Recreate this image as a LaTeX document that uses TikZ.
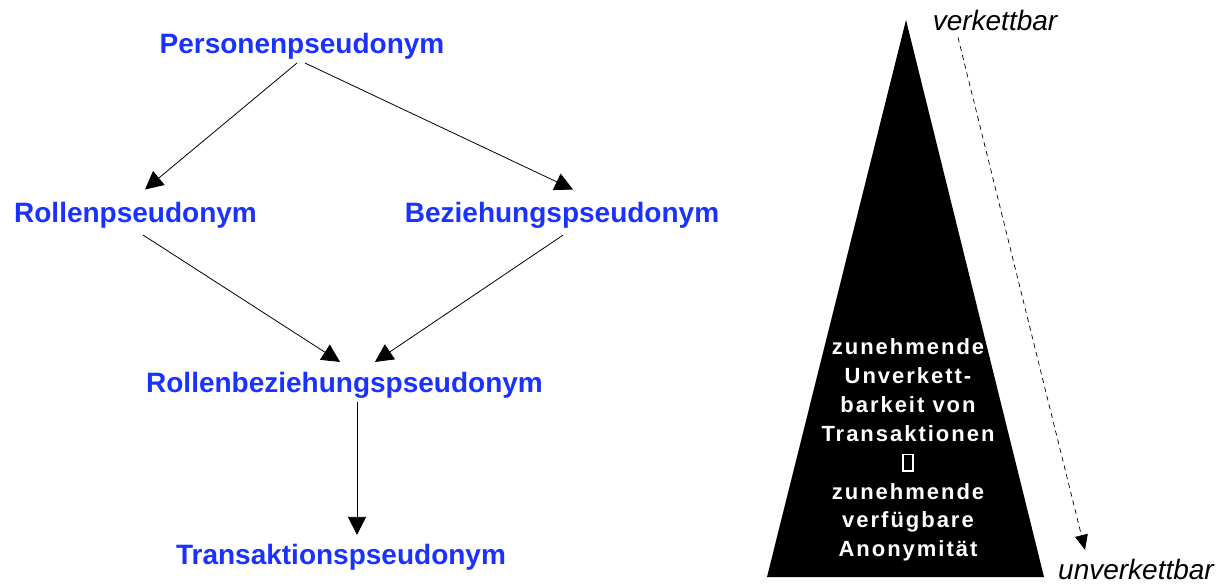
\documentclass[tikz,border=0pt]{standalone}
\usepackage{fontspec}
\setmainfont{Liberation Sans}
\newfontfamily\pseudofont{Liberation Sans}
\newfontfamily\triafont{Liberation Sans}[LetterSpace=9]
\newfontfamily\linkfont{Liberation Sans}
\usetikzlibrary{arrows.meta, positioning}
\definecolor{pseudoblue}{RGB}{26,50,255}

\begin{document}
\begin{tikzpicture}[
    x=1pt, y=-1pt,
    pseudo/.style={font=\pseudofont\bfseries\fontsize{28}{32}\selectfont,
      text=pseudoblue, inner sep=3pt, anchor=base},
    link/.style={font=\linkfont\itshape\fontsize{28}{32}\selectfont,
      inner sep=3pt, anchor=base},
    arr/.style={-{Triangle[length=18pt,width=18pt]}, line width=0.8pt},
    dasharr/.style={-{Triangle[length=15pt,width=13pt]}, line width=0.7pt,
      dash pattern=on 5pt off 4pt}]

  \useasboundingbox (0,0) rectangle (1225,585);

  % pseudonyms
  \node[pseudo] at (302,54) (pers) {Personenpseudonym};
  \node[pseudo] at (135.5,223) (rollen) {Rollenpseudonym};
  \node[pseudo] at (562,223) (bez) {Beziehungspseudonym};
  \node[pseudo] at (344.5,392) (rolbez) {Rollenbeziehungspseudonym};
  \node[pseudo] at (341,564) (trans) {Transaktionspseudonym};

  \draw[arr] ([xshift=-5pt]pers.south) -- ([xshift=9.5pt,yshift=10pt]rollen.north);
  \draw[arr] ([xshift=3pt]pers.south) -- ([xshift=11pt,yshift=10pt]bez.north);
  \draw[arr] ([xshift=7.5pt,yshift=-3pt]rollen.south) -- ([xshift=-4.5pt,yshift=6.6pt]rolbez.north);
  \draw[arr] ([xshift=1pt,yshift=-3pt]bez.south) -- ([xshift=30.5pt,yshift=6.6pt]rolbez.north);
  \draw[arr] ([xshift=12.5pt,yshift=-1pt]rolbez.south) -- ([xshift=16pt,yshift=5.6pt]trans.north);

  % triangle
  \coordinate (apex) at (906,20);
  \coordinate (baseL) at (767,577);
  \coordinate (baseR) at (1044,577);
  \fill (apex) -- (baseL) -- (baseR) -- cycle;
  \node[text=white, inner sep=0, align=center,
    font=\triafont\bfseries\fontsize{22}{28.9}\selectfont] at (908,450) (anon)
    {zunehmende\\Unverkett-\\barkeit von\\Transaktionen\\
     {\setlength\fboxsep{0pt}\setlength\fboxrule{1.6pt}\fbox{\rule{0pt}{15pt}\hspace{8pt}}}\\
     zunehmende\\verfügbare\\Anonymität};

  % linkability
  \node[link] at (995,31) (verk) {verkettbar};
  \node[link] at (1136,579) (unverk) {unverkettbar};
  \draw[dasharr] ([xshift=-37pt,yshift=-3pt]verk.south) -- ([xshift=-51pt,yshift=5.6pt]unverk.north);
\end{tikzpicture}
\end{document}
